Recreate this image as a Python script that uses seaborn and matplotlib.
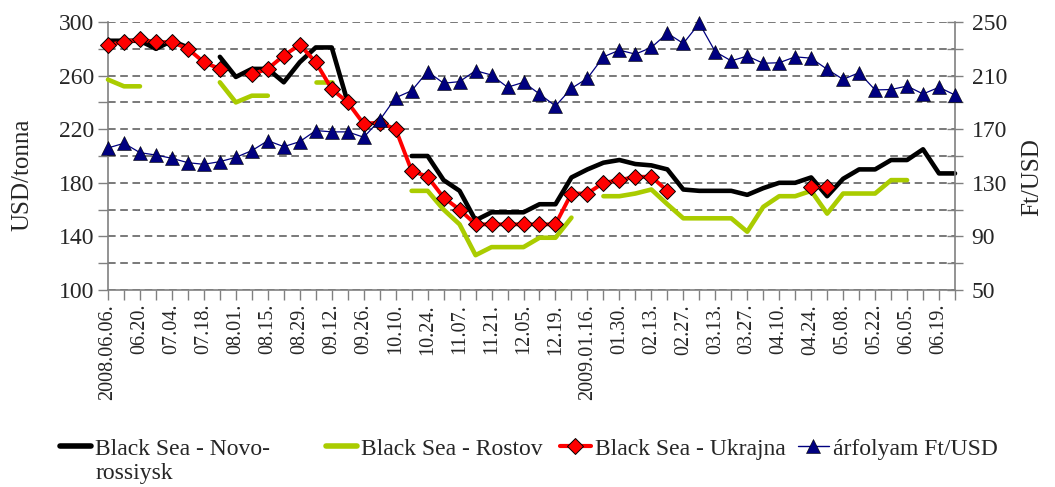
import numpy as np
import pandas as pd
import matplotlib
matplotlib.use("Agg")
import matplotlib.pyplot as plt
import seaborn as sns
from matplotlib.lines import Line2D

nan = np.nan

# weekly dates (category axis)
dates = ["2008.06.06.", "06.13.", "06.20.", "06.27.", "07.04.", "07.11.", "07.18.", "07.25.",
         "08.01.", "08.08.", "08.15.", "08.22.", "08.29.", "09.05.", "09.12.", "09.19.",
         "09.26.", "10.03.", "10.10.", "10.17.", "10.24.", "10.31.", "11.07.", "11.14.",
         "11.21.", "11.28.", "12.05.", "12.12.", "12.19.", "2009.01.09.", "2009.01.16.", "01.23.",
         "01.30.", "02.06.", "02.13.", "02.20.", "02.27.", "03.06.", "03.13.", "03.20.",
         "03.27.", "04.03.", "04.10.", "04.17.", "04.24.", "05.01.", "05.08.", "05.15.",
         "05.22.", "05.29.", "06.05.", "06.12.", "06.19.", "06.26."]

# USD/tonna
novorossiysk = [286, 286, 286, 280, 286, 281, nan, 274, 259, 265, 265, 255, 270, 281, 281, 240,
                nan, nan, nan, 200, 200, 182, 174, 152, 158, 158, 158, 164, 164, 184, 190, 195,
                197, 194, 193, 190, 175, 174, 174, 174, 171, 176, 180, 180, 184, 170, 183, 190,
                190, 197, 197, 205, 187, 187]
rostov = [257, 252, 252, nan, nan, nan, nan, 255, 240, 245, 245, nan, nan, 255, 255, nan,
          nan, nan, nan, 174, 174, 160, 149, 126, 132, 132, 132, 139, 139, 154, nan, 170,
          170, 172, 175, 164, 153.5, 153.5, 153.5, 153.5, 143.5, 162, 170, 170, 174, 157, 172, 172,
          172, 182, 182, nan, nan, nan]
ukrajna = [283, 285, 287, 285, 285, 280, 270, 265, nan, 261, 265, 275, 283, 270, 250, 240,
           224, 225, 220, 189, 184.5, 169, 160, 149, 149, 149, 149, 149, 149, 172, 172, 180,
           182, 184.5, 184.5, 174, nan, nan, nan, nan, nan, nan, nan, nan, 177, 177, nan, nan,
           nan, nan, nan, nan, nan, nan]
# Ft/USD
arfolyam = [156, 159.5, 152.5, 150.7, 148.3, 145, 143.8, 145.8, 149, 154, 161.4, 157, 160.7, 169, 168, 168,
            164, 176.7, 193.5, 198.7, 213, 204.3, 205.5, 213.7, 210.4, 201.3, 205, 196.3, 187.3, 200.5, 208, 224,
            229, 226, 231, 241.6, 234, 249, 227.8, 221, 224.6, 219.2, 219.6, 224, 223, 214.7, 207.2, 212.2,
            199.3, 199.6, 202.2, 196.3, 201.3, 195.5]

sns.set_style("white")
plt.rcParams["font.family"] = ["Liberation Serif", "DejaVu Serif"]

AXIS_GREY = "#808080"
GREEN = "#AACC00"
NAVY = "#000080"


def draw_series(ax, values, **kw):
    # break the line where values are missing (like Excel gaps)
    df = pd.DataFrame({"x": np.arange(len(values)), "y": values})
    df["seg"] = df["y"].isna().cumsum()
    df = df.dropna()
    sns.lineplot(data=df, x="x", y="y", units="seg", estimator=None, sort=False,
                 ax=ax, legend=False, clip_on=False, **kw)


fig = plt.figure(figsize=(10.55, 4.87), dpi=100)
ax = fig.add_axes([108 / 1055, 1 - 290 / 487, 847 / 1055, 268 / 487])
ax2 = ax.twinx()

draw_series(ax, novorossiysk, color="black", lw=3.3, zorder=3)
draw_series(ax, rostov, color=GREEN, lw=3.3, zorder=3)
draw_series(ax, ukrajna, color="red", lw=2.8, marker="D", markersize=8,
            markeredgecolor="black", markeredgewidth=0.7, zorder=4)
draw_series(ax2, arfolyam, color=NAVY, lw=0.9, marker="^", markersize=9.5,
            markeredgecolor="black", markeredgewidth=0.4, zorder=5)

# primary axis
ax.set_xlim(0, len(dates) - 1)
ax.set_ylim(100, 300)
ax.set_yticks(np.arange(100, 301, 40))
ax.set_yticks(np.arange(120, 300, 40), minor=True)
ax.set_xticks(np.arange(0, len(dates), 2))
ax.set_xticklabels(dates[::2], rotation=90, fontsize=14.5)
ax.set_xticks(np.arange(len(dates)), minor=True)
ax.tick_params(axis="y", which="both", direction="out", length=7, width=1,
               color=AXIS_GREY, labelsize=17, pad=3, left=True)
ax.tick_params(axis="x", which="both", direction="out", length=7, width=1,
               color=AXIS_GREY, pad=3, bottom=True)
ax.grid(False)
ax.yaxis.grid(True, which="both", linestyle=(0, (5, 3)), color="#555555", lw=1.1)
ax.set_axisbelow(True)
ax.set_xlabel("")
ax.set_ylabel("USD/tonna", fontsize=18)
ax.yaxis.set_label_coords(-0.088, 0.43)
for s in ["left", "bottom"]:
    ax.spines[s].set_color(AXIS_GREY)
    ax.spines[s].set_linewidth(1.2)
ax.spines["top"].set_visible(False)
ax.spines["right"].set_visible(False)

# secondary axis
ax2.set_ylim(50, 250)
ax2.set_yticks(np.arange(50, 251, 40))
ax2.set_yticks(np.arange(70, 250, 40), minor=True)
ax2.tick_params(axis="y", which="both", direction="inout", length=12, width=1,
                color=AXIS_GREY, labelsize=17, pad=6, right=True)
ax2.grid(False)
ax2.set_xlabel("")
ax2.set_ylabel("Ft/USD", fontsize=18)
ax2.yaxis.set_label_coords(1.078, 0.42)
ax2.spines["right"].set_color(AXIS_GREY)
ax2.spines["right"].set_linewidth(1.2)
for s in ["left", "top", "bottom"]:
    ax2.spines[s].set_visible(False)

# legend, one block per entry like the original layout
entries = [
    (Line2D([], [], color="black", lw=4), "Black Sea - Novo-", 60),
    (Line2D([], [], color=GREEN, lw=4), "Black Sea - Rostov", 326),
    (Line2D([], [], color="red", lw=3, marker="D", markersize=8,
            markeredgecolor="black", markeredgewidth=0.7), "Black Sea - Ukrajna", 560),
    (Line2D([], [], color=NAVY, lw=1, marker="^", markersize=9.5,
            markeredgecolor="black", markeredgewidth=0.4), "árfolyam Ft/USD", 798),
]
legends = []
for handle, label, xpix in entries:
    leg = fig.legend(handles=[handle], labels=[label], loc="upper left",
                     bbox_to_anchor=(xpix / 1055, 1 - 438 / 487), frameon=False,
                     fontsize=17, handlelength=1.3, handletextpad=0.2,
                     borderpad=0, borderaxespad=0, labelspacing=0)
    legends.append(leg)

# wrapped second line of the first legend label
fig.canvas.draw()
first_text = legends[0].get_texts()[0]
bb = first_text.get_window_extent()
x0, y0 = fig.transFigure.inverted().transform((bb.x0, bb.y0))
fig.text(x0, y0 - 0.008, "rossiysk", fontsize=17, ha="left", va="top")

fig.savefig("out.png", dpi=100)
